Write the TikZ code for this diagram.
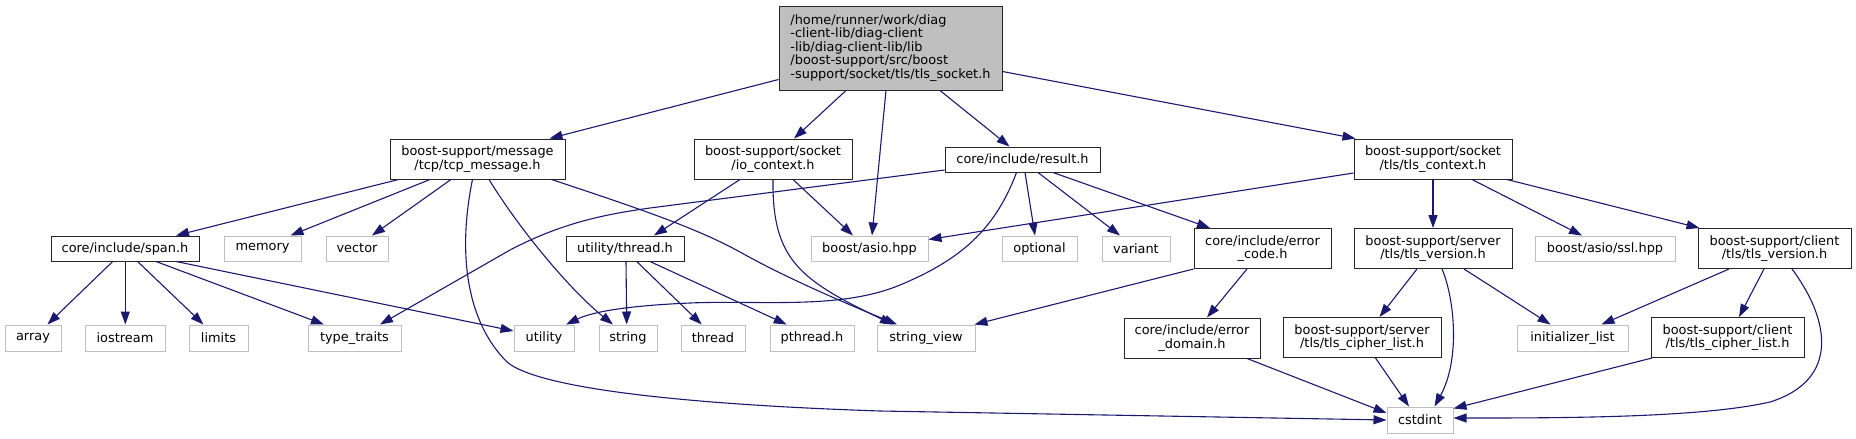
\documentclass[tikz,border=0pt]{standalone}
\usepackage{fontspec}
\setmainfont{DejaVu Sans}
\usetikzlibrary{calc,arrows.meta}
\definecolor{edgec}{HTML}{191970}
\definecolor{extc}{HTML}{BFBFBF}
\definecolor{boxc}{HTML}{262626}
\begin{document}
\begin{tikzpicture}[x=1pt,y=-1pt,
  box/.style={draw=boxc, line width=1pt, fill=white, inner sep=0pt, align=center,
    font=\fontsize{12.9}{13.5}\selectfont, minimum height=25pt},
  ext/.style={box, draw=extc},
  rootn/.style={box, fill=extc, align=left},
  edge/.style={draw=edgec, line width=1.1pt, -{Triangle[length=13pt,width=9pt]}},
]
\useasboundingbox (0,0) rectangle (1856,439);

% nodes
\node[rootn, minimum width=223pt, minimum height=84pt] (root) at (890.5,48) {/home/runner/work/diag\\-client-lib/diag-client\\-lib/diag-client-lib/lib\\/boost-support/src/boost\\-support/socket/tls/tls\_socket.h};

\node[box, minimum width=175pt, minimum height=40pt] (tcp) at (477.5,159) {boost-support/message\\/tcp/tcp\_message.h};
\node[box, minimum width=158pt, minimum height=40pt] (io) at (773,159) {boost-support/socket\\/io\_context.h};
\node[box, minimum width=155pt] (res) at (1022.5,159.5) {core/include/result.h};
\node[box, minimum width=158pt, minimum height=40pt] (tlsc) at (1433,159) {boost-support/socket\\/tls/tls\_context.h};

\node[box, minimum width=148pt] (span) at (125,248.5) {core/include/span.h};
\node[ext, minimum width=77pt] (memory) at (262.5,248.5) {memory};
\node[ext, minimum width=62pt] (vector) at (357,248.5) {vector};
\node[box, minimum width=118pt] (thr) at (625,248.5) {utility/thread.h};
\node[ext, minimum width=117pt] (asio) at (869.5,248.5) {boost/asio.hpp};
\node[ext, minimum width=75pt] (optional) at (1039.5,248.5) {optional};
\node[ext, minimum width=68pt] (variant) at (1136,248.5) {variant};
\node[box, minimum width=137pt, minimum height=40pt] (errc) at (1262.5,248.5) {core/include/error\\\_code.h};
\node[box, minimum width=158pt, minimum height=40pt] (stv) at (1433,248.5) {boost-support/server\\/tls/tls\_version.h};
\node[ext, minimum width=140pt] (ssl) at (1605,248.5) {boost/asio/ssl.hpp};
\node[box, minimum width=153pt, minimum height=40pt] (ctv) at (1774.5,248.5) {boost-support/client\\/tls/tls\_version.h};

\node[ext, minimum width=56pt, minimum height=26pt] (array) at (33,338) {array};
\node[ext, minimum width=80pt, minimum height=26pt] (iostream) at (125,338) {iostream};
\node[ext, minimum width=59pt, minimum height=26pt] (limits) at (218.5,338) {limits};
\node[ext, minimum width=93pt, minimum height=26pt] (typetraits) at (354.5,338) {type\_traits};
\node[ext, minimum width=60pt, minimum height=26pt] (utility) at (544,338) {utility};
\node[ext, minimum width=58pt, minimum height=26pt] (string) at (628,338) {string};
\node[ext, minimum width=64pt, minimum height=26pt] (thread) at (713,338) {thread};
\node[ext, minimum width=84pt, minimum height=26pt] (pthread) at (812,338) {pthread.h};
\node[ext, minimum width=98pt, minimum height=26pt] (strv) at (926,338) {string\_view};
\node[box, minimum width=136pt, minimum height=40pt] (errd) at (1192,338) {core/include/error\\\_domain.h};
\node[box, minimum width=158pt, minimum height=40pt] (scl) at (1362,337.5) {boost-support/server\\/tls/tls\_cipher\_list.h};
\node[ext, minimum width=111pt, minimum height=26pt] (init) at (1572.5,338) {initializer\_list};
\node[box, minimum width=153pt, minimum height=40pt] (ccl) at (1727.5,337.5) {boost-support/client\\/tls/tls\_cipher\_list.h};
\node[ext, minimum width=66pt, minimum height=26pt] (cstdint) at (1420,420) {cstdint};

% edges from root
\draw[edge] ($(root.south west)+(0,-11)$) -- ($(tcp.north)+(72,0)$);
\draw[edge] ($(root.south)+(-44.5,0)$) -- ($(io.north)+(21,0)$);
\draw[edge] ($(root.south)+(-4.5,0)$) -- ($(asio.north)+(2.5,0)$);
\draw[edge] ($(root.south)+(49.5,0)$) -- ($(res.north)+(-13,0)$);
\draw[edge] ($(root.south east)+(0,-19)$) -- ($(tlsc.north west)+(2,0)$);

% edges from tcp_message
\draw[edge] ($(tcp.south west)+(9,0)$) -- ($(span.north)+(51,0)$);
\draw[edge] ($(tcp.south)+(-47.5,0)$) -- ($(memory.north)+(28,0)$);
\draw[edge] ($(tcp.south)+(-26.5,0)$) -- ($(vector.north)+(15,0)$);
\draw[edge] ($(tcp.south)+(-5,0)$) .. controls (458,250) and (465,320) .. (507,362)
  .. controls (540,390) and (700,405) .. (880,411) -- (cstdint.west);
\draw[edge] ($(tcp.south)+(11.5,0)$) .. controls (520,230) and (570,290) .. ($(string.north)+(-15,0)$);
\draw[edge] ($(tcp.south)+(74,0)$) .. controls (650,212) and (700,230) .. (740,252)
  .. controls (790,280) and (850,305) .. ($(strv.north)+(-29,0)$);

% edges from io_context
\draw[edge] ($(io.south)+(-33,0)$) -- ($(thr.north)+(29,0)$);
\draw[edge] ($(io.south)+(20,0)$) -- ($(asio.north)+(-16.5,0)$);
\draw[edge] (io.south) .. controls (772,260) and (800,280) .. ($(strv.north)+(-33,0)$);

% edges from result.h
\draw[edge] ($(res.west)+(0,10.5)$) -- (650,208) .. controls (600,215) and (560,224) .. (510,250) -- ($(typetraits.north)+(25.5,0)$);
\draw[edge] ($(res.south)+(-6,0)$) .. controls (995,230) and (960,260) .. (900,285)
  .. controls (840,310) and (760,300) .. (690,303)
  .. controls (620,306) and (590,313) .. ($(utility.north)+(22,0)$);
\draw[edge] ($(res.south)+(2.5,0)$) -- ($(optional.north)+(-4.5,0)$);
\draw[edge] ($(res.south)+(15.5,0)$) -- ($(variant.north)+(-16,0)$);
\draw[edge] ($(res.south)+(30.5,0)$) -- ($(errc.north)+(-52.5,0)$);

% edges from tls_context
\draw[edge] ($(tlsc.west)+(0,14)$) -- ($(asio.north east)+(0,4)$);
\draw[edge] (tlsc.south) -- (stv.north);
\draw[edge] ($(tlsc.south)+(39,0)$) -- ($(ssl.north)+(-23,0)$);
\draw[edge] ($(tlsc.south)+(74,0)$) -- ($(ctv.north west)+(2,0)$);

% edges from error_code / error_domain
\draw[edge] (errc.south west) -- ($(strv.north east)+(-1,0)$);
\draw[edge] ($(errc.south)+(-15.5,0)$) -- ($(errd.north)+(15,0)$);
\draw[edge] ($(errd.south)+(55,0)$) -- ($(cstdint.west)+(0,-7)$);

% edges from server tls_version
\draw[edge] ($(stv.south)+(-16,0)$) -- ($(scl.north)+(17.5,0)$);
\draw[edge] ($(stv.south)+(9,0)$) .. controls (1455,300) and (1460,360) .. ($(cstdint.north)+(14.5,0)$);
\draw[edge] ($(stv.south)+(31,0)$) -- ($(init.north)+(-22,0)$);

% edges from client tls_version
\draw[edge] ($(ctv.south)+(-45.5,0)$) -- ($(init.north)+(29,0)$);
\draw[edge] ($(ctv.south)+(-10.5,0)$) -- ($(ccl.north)+(11.5,0)$);
\draw[edge] ($(ctv.south)+(17.5,0)$) .. controls (1830,320) and (1840,380) .. (1770,402)
  .. controls (1700,418) and (1560,418) .. ($(cstdint.east)+(0,-2)$);

% cipher lists
\draw[edge] ($(scl.south)+(13.5,0)$) -- ($(cstdint.north)+(-11,0)$);
\draw[edge] ($(ccl.south west)+(1.5,0)$) -- ($(cstdint.north east)+(0,2)$);

% edges from span.h
\draw[edge] ($(span.south)+(-12.3,0)$) -- ($(array.north)+(14.4,0)$);
\draw[edge] ($(span.south)+(0.3,0)$) -- ($(iostream.north)+(0.3,0)$);
\draw[edge] ($(span.south)+(12.6,0)$) -- ($(limits.north)+(-15,0)$);
\draw[edge] ($(span.south)+(31,0)$) -- ($(typetraits.north)+(-30.5,0)$);
\draw[edge] ($(span.south)+(51,0)$) -- ($(utility.west)+(0,-7)$);

% edges from thread.h
\draw[edge] ($(thr.south)+(1,0)$) -- ($(string.north)+(-1.3,0)$);
\draw[edge] ($(thr.south)+(11.7,0)$) -- ($(thread.north)+(-11.3,0)$);
\draw[edge] ($(thr.south)+(25,0)$) -- ($(pthread.north)+(-25.3,0)$);
\end{tikzpicture}
\end{document}
